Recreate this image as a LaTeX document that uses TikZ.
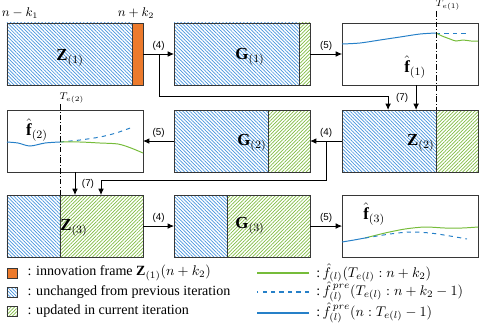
\documentclass[tikz,border=0pt]{standalone}
\usepackage{amsmath}
\usepackage{fontspec}
\setmainfont{Liberation Serif}
\newfontfamily\labelfont{Liberation Sans}
\usetikzlibrary{positioning, arrows.meta, calc, backgrounds, patterns.meta}

\definecolor{hatchblue}{RGB}{70,148,222}
\definecolor{hatchgreen}{RGB}{128,188,66}
\definecolor{innovorange}{RGB}{236,122,44}
\definecolor{curveblue}{RGB}{38,128,200}
\definecolor{curvegreen}{RGB}{118,188,58}
\definecolor{frameline}{RGB}{55,55,55}

\begin{document}
\begin{tikzpicture}[x=0.025cm, y=-0.025cm,
                block/.style={draw=frameline, line width=0.6pt, rectangle, minimum width=3.4cm, minimum height=1.55cm, inner sep=0pt, outer sep=0pt},
                bluehatch/.style={pattern={Lines[angle=-45, distance=1.75pt, line width=0.5pt]}, pattern color=hatchblue},
                greenhatch/.style={pattern={Lines[angle=45, distance=1.75pt, line width=0.5pt]}, pattern color=hatchgreen},
                divider/.style={draw=frameline, line width=0.6pt},
                flow/.style={-{Latex[length=4.5pt, width=4pt]}, line width=0.6pt},
                steplabel/.style={font=\labelfont\scriptsize, inner sep=2pt},
                blocklabel/.style={font=\large, inner sep=0pt},
                telabel/.style={font=\scriptsize, inner sep=0.5pt},
                tline/.style={line width=0.5pt, dash pattern=on 4pt off 1.5pt on 0.6pt off 1.5pt},
                curve/.style={line width=0.7pt},
                legline/.style={line width=1pt},
                legsq/.style={draw=frameline, line width=0.5pt, minimum size=0.25cm, inner sep=0pt},
                legtext/.style={font=\normalsize, inner sep=0pt}
            ]
            \useasboundingbox (0,0) rectangle (485,325);

            % Bloecke
            \node[block] (Z1) at (75,54) {};
            \node[block, right=0.775cm of Z1] (G1) {};
            \node[block, right=0.8cm of G1] (f1) {};
            \node[block, below=0.625cm of Z1] (f2) {};
            \node[block, below=0.625cm of G1] (G2) {};
            \node[block, below=0.625cm of f1] (Z2) {};
            \node[block, below=0.575cm of f2] (Z3) {};
            \node[block, below=0.575cm of G2] (G3) {};
            \node[block, below=0.575cm of Z2] (f3) {};

            % Trennstellen
            \coordinate (cutZ1) at ([xshift=-0.275cm]Z1.north east);
            \coordinate (cutG1) at ([xshift=-0.275cm]G1.north east);
            \coordinate (cutG2) at ([xshift=-1.05cm]G2.north east);
            \coordinate (cutZ2) at ([xshift=-1.05cm]Z2.north east);
            \coordinate (cutZ3) at ([xshift=1.325cm]Z3.north west);
            \coordinate (cutG3) at ([xshift=1.325cm]G3.north west);

            \begin{scope}[on background layer]
                \path[bluehatch] (Z1.south west) rectangle (cutZ1);
                \fill[innovorange] (cutZ1) rectangle (Z1.south east);
                \path[bluehatch] (G1.south west) rectangle (cutG1);
                \path[greenhatch] (cutG1) rectangle (G1.south east);
                \path[bluehatch] (G2.south west) rectangle (cutG2);
                \path[greenhatch] (cutG2) rectangle (G2.south east);
                \path[bluehatch] (Z2.south west) rectangle (cutZ2);
                \path[greenhatch] (cutZ2) rectangle (Z2.south east);
                \path[bluehatch] (Z3.south west) rectangle (cutZ3);
                \path[greenhatch] (cutZ3) rectangle (Z3.south east);
                \path[bluehatch] (G3.south west) rectangle (cutG3);
                \path[greenhatch] (cutG3) rectangle (G3.south east);
            \end{scope}

            \draw[divider] (cutZ1) -- (cutZ1 |- Z1.south);
            \draw[divider] (cutG1) -- (cutG1 |- G1.south);
            \draw[divider] (cutG2) -- (cutG2 |- G2.south);
            \draw[divider] (cutZ2) -- (cutZ2 |- Z2.south);
            \draw[divider] (cutZ3) -- (cutZ3 |- Z3.south);
            \draw[divider] (cutG3) -- (cutG3 |- G3.south);

            % Legende (Linien zuerst)
            \node[legtext, anchor=west] (lt4) at (316,273) {:$\,\hat{f}_{(l)}(T_{e(l)}:n+k_2)$};
            \node[legtext, anchor=west] (lt5) at (316,292) {:$\,\hat{f}^{\,pre}_{(l)}(T_{e(l)}:n+k_2-1)$};
            \node[legtext, anchor=west] (lt6) at (316,313) {:$\,\hat{f}^{\,pre}_{(l)}(n:T_{e(l)}-1)$};
            \draw[legline, draw=curvegreen] ([xshift=-0.175cm]lt4.west) -- ++(-52,0);
            \draw[legline, draw=curveblue, dashed] ([xshift=-0.175cm]lt5.west) -- ++(-52,0);
            \draw[legline, draw=curveblue] ([xshift=-0.175cm]lt6.west) -- ++(-52,0);

            % Kurven
            \draw[curve, draw=curveblue] plot[smooth] coordinates {(342,44) (360,43) (380,40) (400,37) (420,34) (436,33)};
            \draw[curve, draw=curveblue, dashed] (436,33) -- (468,33);
            \draw[curve, draw=curvegreen] plot[smooth] coordinates {(436,33) (442,36) (450,39) (456,41) (463,40) (471,41) (478,41)};

            \draw[curve, draw=curveblue] plot[smooth] coordinates {(7,142) (18,143) (30,146) (45,143) (60,142)};
            \draw[curve, draw=curveblue, dashed] plot[smooth] coordinates {(60,142) (80,140) (100,137) (116,133) (133,127)};
            \draw[curve, draw=curvegreen] plot[smooth] coordinates {(60,142) (80,142) (100,143) (118,144) (131,148) (143,153)};

            \draw[curve, draw=curveblue] plot[smooth] coordinates {(342,242) (354,240) (365,238)};
            \draw[curve, draw=curvegreen] plot[smooth] coordinates {(365,238) (385,233) (405,229) (425,227) (445,228) (462,228) (478,227)};
            \draw[curve, draw=curveblue, dashed] plot[smooth] coordinates {(365,238) (390,234) (410,232) (430,233) (450,236) (467,239)};

            % Beschriftungen der Bloecke
            \node[blocklabel] (Z1l) at ([xshift=-0.125cm, yshift=-0.1cm]Z1.center) {$\mathbf{Z}_{(1)}$};
            \node[blocklabel] (G1l) at ([xshift=0.2cm, yshift=-0.075cm]G1.center) {$\mathbf{G}_{(1)}$};
            \node[blocklabel] (f1l) at ([xshift=0.125cm, yshift=-0.325cm]f1.center) {$\hat{\mathbf{f}}_{(1)}$};
            \node[blocklabel] (f2l) at ([xshift=-0.95cm, yshift=0.275cm]f2.center) {$\hat{\mathbf{f}}_{(2)}$};
            \node[blocklabel, anchor=east] (G2l) at ([xshift=-1pt, yshift=-0.05cm]cutG2 |- G2.center) {$\mathbf{G}_{(2)}$};
            \node[blocklabel, anchor=east] (Z2l) at ([xshift=-1pt, yshift=-0.05cm]cutZ2 |- Z2.center) {$\mathbf{Z}_{(2)}$};
            \node[blocklabel, anchor=west] (Z3l) at ([xshift=0pt, yshift=-0.05cm]cutZ3 |- Z3.center) {$\mathbf{Z}_{(3)}$};
            \node[blocklabel] (G3l) at ([xshift=0.2cm]G3.center) {$\mathbf{G}_{(3)}$};
            \node[blocklabel] (f3l) at ([xshift=-0.9cm, yshift=0.3cm]f3.center) {$\hat{\mathbf{f}}_{(3)}$};

            \node[font=\small, inner sep=0pt] (nk1) at (20,13) {$n-k_1$};
            \node[font=\small, inner sep=0pt] (nk2) at (136,13) {$n+k_2$};

            % Zeitpunkte T_e
            \coordinate (te1) at ([yshift=0.3cm]f1.north -| cutZ2);
            \coordinate (te2) at ([yshift=0.15cm]f2.north -| cutZ3);
            \draw[tline] (te1) -- (cutZ2);
            \draw[tline] (te2) -- (cutZ3);
            \node[telabel, anchor=south west] (te1l) at ([xshift=-1pt]te1) {$T_{e(1)}$};
            \node[telabel, anchor=south west] (te2l) at ([xshift=-1pt]te2) {$T_{e(2)}$};

            % Pfeile
            \draw[flow] (Z1.east) -- (G1.west) node[midway, above, steplabel] {(4)};
            \draw[flow] (G1.east) -- (f1.west) node[midway, above, steplabel] {(5)};
            \coordinate (br1) at ([xshift=0.4cm, yshift=-0.275cm]Z1.south east);
            \draw[flow] (br1 |- Z1.east) -- (br1) -| ([xshift=-0.55cm]Z2.north);
            \draw[flow] ([xshift=0.15cm]f1.south) -- ([xshift=0.15cm]f1.south |- Z2.north);
            \node[steplabel] (s7a) at ($([xshift=-0.2cm]f1.south)!0.5!([xshift=-0.2cm]Z2.north)$) {(7)};

            \draw[flow] (Z2.west) -- (G2.east) node[midway, above, steplabel] {(4)};
            \draw[flow] (G2.west) -- (f2.east) node[midway, above, steplabel] {(5)};
            \coordinate (br2) at ([xshift=0.4cm, yshift=-0.2cm]G2.south east);
            \draw[flow] (br2 |- Z2.west) -- (br2) -| ([xshift=0.65cm]Z3.north);
            \draw[flow] (f2.south) -- (Z3.north);
            \node[steplabel] (s7b) at ($([xshift=0.325cm]f2.south)!0.5!([xshift=0.325cm]Z3.north)$) {(7)};

            \draw[flow] (Z3.east) -- (G3.west) node[midway, above, steplabel] {(4)};
            \draw[flow] (G3.east) -- (f3.west) node[midway, above, steplabel] {(5)};

            % Legende (Felder)
            \node[legsq, fill=innovorange] (lg1) at (12,273) {};
            \node[legsq, bluehatch] (lg2) at (12,292) {};
            \node[legsq, greenhatch] (lg3) at (12,311) {};
            \node[legtext, right=0.25cm of lg1] (lt1) {: innovation frame $\mathbf{Z}_{(1)}(n+k_2)$};
            \node[legtext, right=0.25cm of lg2] (lt2) {: unchanged from previous iteration};
            \node[legtext, right=0.25cm of lg3] (lt3) {: updated in current iteration};

        \end{tikzpicture}
\end{document}
